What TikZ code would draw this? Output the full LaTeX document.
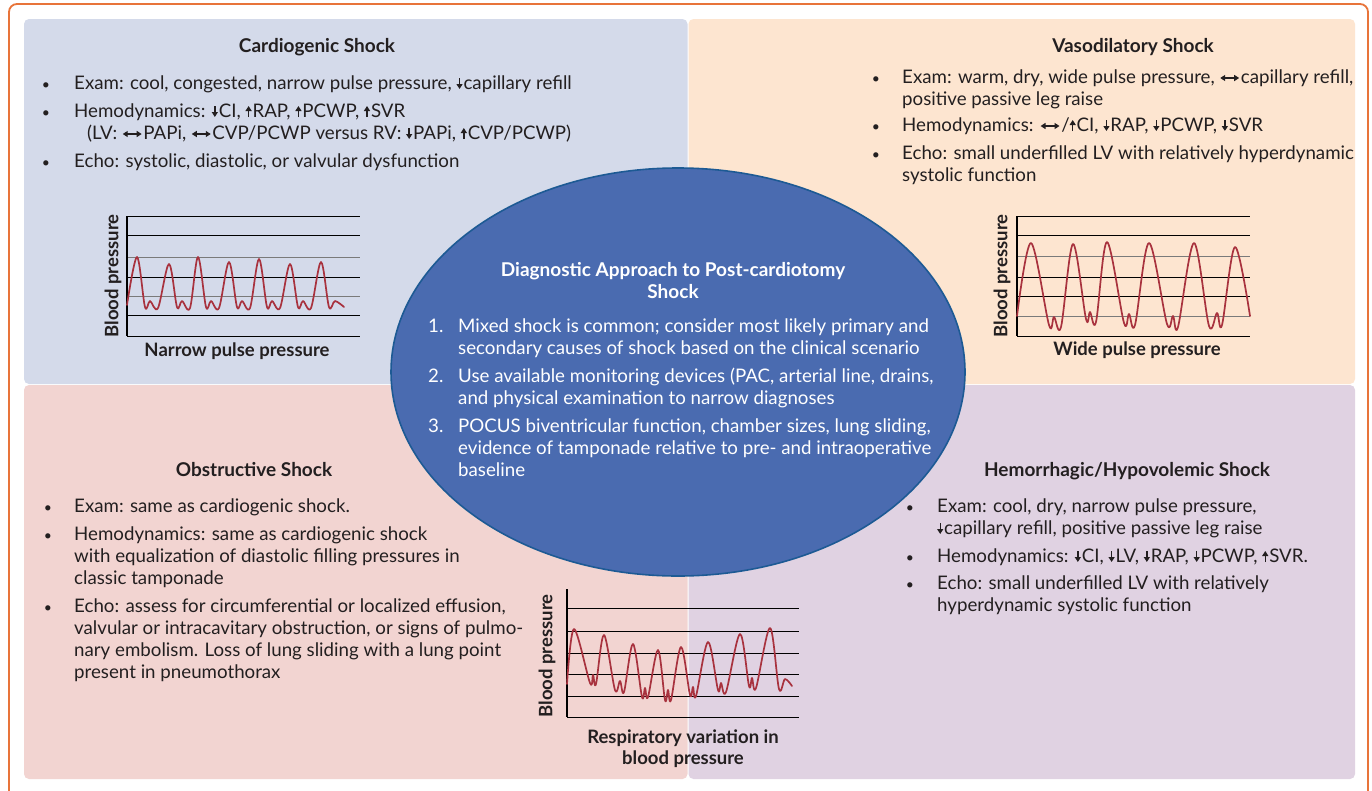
\documentclass[tikz,border=0pt]{standalone}
\usepackage{fontspec}
\setmainfont{Lato}
\usetikzlibrary{shapes.geometric,arrows.meta}
\definecolor{txt}{HTML}{231F20}
\definecolor{framec}{HTML}{E8743A}
\definecolor{pTL}{HTML}{D4DAEA}
\definecolor{pTR}{HTML}{FDE5D0}
\definecolor{pBL}{HTML}{F2D4D1}
\definecolor{pBR}{HTML}{E0D2E2}
\definecolor{ellf}{HTML}{4A6BB0}
\definecolor{elld}{HTML}{1D5A94}
\definecolor{wave}{HTML}{A8323E}
\definecolor{gridg}{HTML}{7A7A7A}
\newcommand\dA{\tikz[x=1pt,y=1pt,baseline=0pt]\draw[txt,line width=1.4pt,-{Triangle[length=5pt,width=6pt]}] (0,11)--(0,0);\hspace{1pt}}
\newcommand\uA{\tikz[x=1pt,y=1pt,baseline=0pt]\draw[txt,line width=1.4pt,-{Triangle[length=5pt,width=6pt]}] (0,0)--(0,11);\hspace{1pt}}
\newcommand\lrA{\tikz[x=1pt,y=1pt,baseline=-5pt]\draw[txt,line width=1.4pt,{Triangle[length=5pt,width=6pt]}-{Triangle[length=5pt,width=6pt]}] (0,0)--(19,0);\hspace{1pt}}
\newcommand\ml[1]{\vtop{\halign{##\hfil\cr#1\crcr}}}
\newcommand\mc[1]{\vtop{\halign{\hfil##\hfil\cr#1\crcr}}}
\tikzset{
  body/.style={font=\fontsize{18.7}{22}\selectfont, text=txt, anchor=base west, inner sep=0pt},
  wbody/.style={body, text=white},
  ttl/.style={font=\bfseries\fontsize{19}{22}\selectfont, text=txt, anchor=base, inner sep=0pt},
  bul/.style={font=\fontsize{14}{22}\selectfont, text=txt, anchor=base, inner sep=0pt},
  num/.style={font=\fontsize{18.7}{22}\selectfont, text=white, anchor=base west, inner sep=0pt},
  axlbl/.style={font=\bfseries\fontsize{18.5}{21.5}\selectfont, text=txt, inner sep=0pt},
  panel/.style={rounded corners=5pt},
  gline/.style={line width=1pt},
  axis/.style={line width=1.3pt, black},
  wv/.style={wave, line width=1.7pt, line join=round, line cap=round},
}
\begin{document}
\begin{tikzpicture}[x=1pt,y=-1pt]
\useasboundingbox (0,0) rectangle (1372,790);
\fill[white] (0,0) rectangle (1372,790);
% frame
\draw[framec, line width=1.8pt, rounded corners=8pt] (9,800) -- (9,4) -- (1368,4) -- (1368,800);
% panels
\fill[pTL, panel] (24,19) rectangle (687.5,384);
\fill[pTR, panel] (688.5,19) rectangle (1355,384);
\fill[pBL, panel] (24,385) rectangle (687.5,779);
\fill[pBR, panel] (688.5,385) rectangle (1355,779);

% ---------- graph 1 (narrow)
\foreach \yy/\cc in {216/black,235/black,257/gridg,277/black,296/gridg,315/black,336/black}
  \draw[gline,\cc] (127,\yy) -- (360,\yy);
\draw[axis] (127,216) -- (127,336);
\draw[wv] plot[smooth, tension=0.55] coordinates {(127,305) (137,257) (145,307) (150,301) (158,308) (169,264) (177,307) (182,301) (190,308) (198,257) (206,307) (211,301) (219,308) (229,262) (237,307) (242,301) (250,308) (259,259) (267,307) (272,301) (280,308) (290,264) (298,307) (303,301) (311,308) (321,262) (329,307) (335,301) (344,307)};
\node[axlbl, rotate=90] (g1y) at (113,276) {Blood pressure};
\node[axlbl, anchor=base] (g1x) at (237,356) {Narrow pulse pressure};

% ---------- graph 2 (wide)
\foreach \yy/\cc in {216/black,235/black,256/gridg,277/black,296/black,316/gridg,336/black}
  \draw[gline,\cc] (1017,\yy) -- (1250,\yy);
\draw[axis] (1017,216) -- (1017,336);
\draw[wv] plot[smooth, tension=0.55] coordinates {(1017,316) (1031,243) (1049,325) (1054,317) (1061,327) (1073,244) (1086,319) (1090,312) (1096,322) (1107,242) (1124,323) (1129,314) (1135,325) (1149,243) (1167,324) (1173,316) (1178,327) (1194,243) (1209,326) (1217,313) (1222,325) (1235,247) (1250,316)};
\node[axlbl, rotate=90] (g2y) at (1002,276) {Blood pressure};
\node[axlbl, anchor=base] (g2x) at (1137,355) {Wide pulse pressure};

% ---------- graph 3 (respiratory)
\foreach \yy in {608,631,653,674,696,717}
  \draw[gline] (567,\yy) -- (799,\yy);
\draw[axis] (567,589) -- (567,717);
\draw[wv] plot[smooth, tension=0.55] coordinates {(567,684) (574,629) (590,683) (593,675) (596,684) (604,635) (615,690) (620,681) (624,692) (633,644) (642,697) (645,688) (648,697) (658,650) (665,700) (668,690) (671,700) (681,647) (690,695) (693,687) (696,696) (708,642) (718,690) (721,683) (726,692) (740,634) (749,686) (752,678) (756,688) (770,628) (779,689) (785,679) (792,686)};
\node[axlbl, rotate=90] (g3y) at (547,656) {Blood pressure};
\node[axlbl, anchor=base] (g3x) at (683,743) {\mc{Respiratory variation in\cr blood pressure}};

% ---------- centre ellipse
\node[ellipse, draw=elld, fill=ellf, line width=1.6pt, minimum width=574pt, minimum height=408pt, inner sep=0pt] (ell) at (678,372) {};
\node[ttl, text=white] (ctitle) at (673,276) {\mc{Diagnostic Approach to Post-cardiotomy\cr Shock}};
\node[num] (n1) at (428,332) {1.};
\node[wbody] (c1) at (458,332) {\ml{Mixed shock is common; consider most likely primary and\cr secondary causes of shock based on the clinical scenario}};
\node[num] (n2) at (428,382) {2.};
\node[wbody] (c2) at (458,382) {\ml{Use available monitoring devices (PAC, arterial line, drains,\cr and physical examination to narrow diagnoses}};
\node[num] (n3) at (428,432) {3.};
\node[wbody] (c3) at (458,432) {\ml{POCUS biventricular function, chamber sizes, lung sliding,\cr evidence of tamponade relative to pre- and intraoperative\cr baseline}};

% ---------- top-left text
\node[ttl] (tlt) at (317,52) {Cardiogenic Shock};
\node[bul] (tlb1) at (46,89) {•};
\node[body] (tl1) at (74,89) {Exam: cool, congested, narrow pulse pressure, \dA capillary refill};
\node[bul] (tlb2) at (46,117) {•};
\node[body] (tl2) at (74,117) {\ml{Hemodynamics: \dA CI, \uA RAP, \uA PCWP, \uA SVR\cr \hspace*{13pt}(LV: \lrA PAPi, \lrA CVP/PCWP versus RV: \dA PAPi, \uA CVP/PCWP)}};
\node[bul] (tlb3) at (46,167) {•};
\node[body] (tl3) at (74,167) {Echo: systolic, diastolic, or valvular dysfunction};

% ---------- top-right text
\node[ttl] (trt) at (1133,52) {Vasodilatory Shock};
\node[bul] (trb1) at (876,83) {•};
\node[body] (tr1) at (902,83) {\ml{Exam: warm, dry, wide pulse pressure, \lrA capillary refill,\cr positive passive leg raise}};
\node[bul] (trb2) at (876,131) {•};
\node[body] (tr2) at (902,131) {Hemodynamics: \lrA/\uA CI, \dA RAP, \dA PCWP, \dA SVR};
\node[bul] (trb3) at (876,159) {•};
\node[body] (tr3) at (902,159) {\ml{Echo: small underfilled LV with relatively hyperdynamic\cr systolic function}};

% ---------- bottom-left text
\node[ttl] (blt) at (254,476) {Obstructive Shock};
\node[bul] (blb1) at (48,512) {•};
\node[body] (bl1) at (74,512) {Exam: same as cardiogenic shock.};
\node[bul] (blb2) at (48,540) {•};
\node[body] (bl2) at (74,540) {\ml{Hemodynamics: same as cardiogenic shock\cr with equalization of diastolic filling pressures in\cr classic tamponade}};
\node[bul] (blb3) at (48,612) {•};
\node[body] (bl3) at (74,612) {\ml{Echo: assess for circumferential or localized effusion,\cr valvular or intracavitary obstruction, or signs of pulmo-\cr nary embolism. Loss of lung sliding with a lung point\cr present in pneumothorax}};

% ---------- bottom-right text
\node[ttl] (brt) at (1127,476) {Hemorrhagic/Hypovolemic Shock};
\node[bul] (brb1) at (910,512) {•};
\node[body] (br1) at (937,512) {\ml{Exam: cool, dry, narrow pulse pressure,\cr \dA capillary refill, positive passive leg raise}};
\node[bul] (brb2) at (910,562) {•};
\node[body] (br2) at (937,562) {Hemodynamics: \dA CI, \dA LV, \dA RAP, \dA PCWP, \uA SVR.};
\node[bul] (brb3) at (910,589) {•};
\node[body] (br3) at (937,589) {\ml{Echo: small underfilled LV with relatively\cr hyperdynamic systolic function}};
\end{tikzpicture}
\end{document}
